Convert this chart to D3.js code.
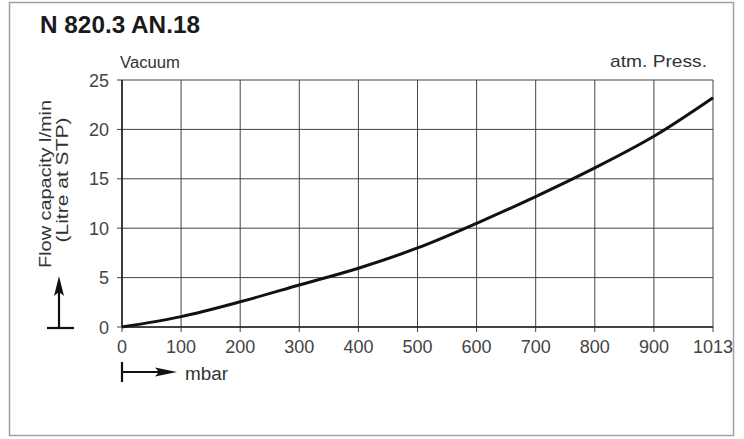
<!DOCTYPE html>
<html><head><meta charset="utf-8">
<script src="https://cdn.jsdelivr.net/npm/d3@7"></script>
<style>body{margin:0;background:#fff}svg{display:block}text{font-family:"Liberation Sans",Arial,sans-serif}</style>
</head><body>
<script>
const title = "N 820.3 AN.18";
const pressure = [0, 100, 200, 300, 400, 500, 600, 700, 800, 900, 1000];
const pressureLabels = ["0","100","200","300","400","500","600","700","800","900","1013"];
const flow = [0, 1.05, 2.55, 4.25, 5.95, 8.0, 10.5, 13.2, 16.1, 19.3, 23.2];
const yTicks = [0, 5, 10, 15, 20, 25];

const W = 744, H = 439;
const svg = d3.select("body").append("svg").attr("width", W).attr("height", H);
svg.append("rect").attr("x",9.5).attr("y",2.5).attr("width",724).attr("height",433)
  .attr("fill","#fff").attr("stroke","#a0a0a0").attr("stroke-width",1.5);

const m = {l:122, r:713, t:80, b:327};
const x = d3.scaleLinear().domain([0,1000]).range([m.l,m.r]);
const y = d3.scaleLinear().domain([0,25]).range([m.b,m.t]);

// grid
const g = svg.append("g");
g.selectAll(".vx").data(pressure).join("line")
  .attr("x1",d=>x(d)).attr("x2",d=>x(d)).attr("y1",y(25)).attr("y2",y(0)+5)
  .attr("stroke","#444").attr("stroke-width",1);
g.selectAll(".hy").data(yTicks).join("line")
  .attr("y1",d=>y(d)).attr("y2",d=>y(d)).attr("x1",x(0)-5).attr("x2",x(1000))
  .attr("stroke","#444").attr("stroke-width",1);
svg.append("line").attr("x1",x(0)).attr("x2",x(1000)).attr("y1",y(0)).attr("y2",y(0)).attr("stroke","#222").attr("stroke-width",1.6);
svg.append("line").attr("x1",x(0)).attr("x2",x(0)).attr("y1",y(0)).attr("y2",y(25)).attr("stroke","#222").attr("stroke-width",1.6);

// tick labels
svg.selectAll(".xl").data(pressure).join("text")
  .attr("x",d=>x(d)).attr("y",y(0)+26).attr("text-anchor","middle")
  .attr("font-size",18).attr("fill","#444").text((d,i)=>pressureLabels[i]);
svg.selectAll(".yl").data(yTicks).join("text")
  .attr("x",x(0)-13).attr("y",d=>y(d)+6.5).attr("text-anchor","end")
  .attr("font-size",18).attr("fill","#444").text(d=>d);

// curve
const line = d3.line().x(d=>x(d[0])).y(d=>y(d[1])).curve(d3.curveCatmullRom);
svg.append("path").datum(pressure.map((p,i)=>[p,flow[i]])).attr("d",line)
  .attr("fill","none").attr("stroke","#111").attr("stroke-width",3);

// texts
const sg = "spacingAndGlyphs";
svg.append("text").attr("x",40).attr("y",33).attr("font-size",23).attr("font-weight","bold")
  .attr("fill","#1a1a1a").attr("textLength",160).attr("lengthAdjust",sg).text(title);
svg.append("text").attr("x",120).attr("y",68).attr("font-size",16).attr("fill","#333")
  .attr("textLength",60).attr("lengthAdjust",sg).text("Vacuum");
svg.append("text").attr("x",707).attr("y",67).attr("font-size",17).attr("text-anchor","end").attr("fill","#333")
  .attr("textLength",97).attr("lengthAdjust",sg).text("atm. Press.");
svg.append("text").attr("transform","translate(51,184) rotate(-90)").attr("text-anchor","middle")
  .attr("font-size",16).attr("fill","#333").attr("textLength",168).attr("lengthAdjust",sg).text("Flow capacity l/min");
svg.append("text").attr("transform","translate(68,180) rotate(-90)").attr("text-anchor","middle")
  .attr("font-size",16).attr("fill","#333").attr("textLength",125).attr("lengthAdjust",sg).text("(Litre at STP)");
svg.append("text").attr("x",185).attr("y",380).attr("font-size",18).attr("fill","#333")
  .attr("textLength",43).attr("lengthAdjust",sg).text("mbar");

// arrows
svg.append("line").attr("x1",47).attr("x2",74).attr("y1",328).attr("y2",328).attr("stroke","#111").attr("stroke-width",2.2);
svg.append("line").attr("x1",59).attr("x2",59).attr("y1",328).attr("y2",290).attr("stroke","#111").attr("stroke-width",2.2);
svg.append("path").attr("d","M59,276 L54,296 L59,292 L64,296 Z").attr("fill","#111");
svg.append("line").attr("x1",122).attr("x2",122).attr("y1",362).attr("y2",382).attr("stroke","#111").attr("stroke-width",2.2);
svg.append("line").attr("x1",122).attr("x2",160).attr("y1",372).attr("y2",372).attr("stroke","#111").attr("stroke-width",2.2);
svg.append("path").attr("d","M177,372 L155,367.5 L159,372 L155,376.5 Z").attr("fill","#111");
</script>
</body></html>
